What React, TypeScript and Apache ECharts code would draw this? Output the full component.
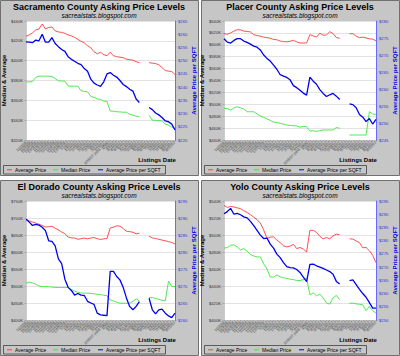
import React, { useEffect, useRef } from "react";
import * as echarts from "echarts";

const dates = ["10/2/06","10/9/06","10/16/06","10/23/06","10/30/06","11/6/06","11/13/06","11/20/06","11/27/06","12/4/06","12/11/06","12/18/06","12/25/06","1/1/07","1/8/07","1/15/07","1/22/07","1/29/07","2/5/07","2/12/07","2/19/07","2/26/07","3/5/07","3/12/07","3/19/07","3/26/07 (new data)","4/2/07","4/9/07","4/16/07","4/23/07","4/30/07","5/7/07","5/14/07","5/21/07","5/28/07","6/4/07","6/11/07","6/18/07","6/25/07","7/2/07","7/9/07","7/16/07","7/23/07","7/30/07","8/6/07","8/13/07","8/20/07"];

const sacAvg = [424.6,426,428,431,432,437,432,433.5,434,430,429,428.5,427.5,426,425,423.5,421.5,419.5,418,415,413,409,407,408.5,406,405,408.5,405,404,403.5,403,401.5,401,400.5,399,398,null,null,398,397.5,397,396,393,390,389.5,389,386];
const sacMed = [378.7,378.7,379,383,384.4,384.4,384.4,384.4,384,382,379.7,379.5,379.3,374.5,374.3,374.3,374.3,369.6,369,368.6,364,363,361.5,361,359.2,359,349.2,349,348.5,348.3,348,348,346,345,344,343.5,null,null,344.8,340,339.8,339.5,339.4,336,335,333,331.7];
const sacSqft = [257.1,257,256.8,257.8,257.5,260,257,257,258.7,256.5,255.3,254.2,253.5,251.5,250.5,249.8,249,248.5,247,246,243,241.5,240.8,240.3,242,245,245.5,244.5,243.8,242.5,241,240.2,239.2,238.5,235.5,234.2,null,null,232.3,231.5,230.2,229.5,228.5,227.2,226.9,226,223.8];

const plcAvg = [618.8,617.7,620,623,625.5,625,623,622.5,621.6,617,615.5,614.5,613,612,611,609,608.5,606.2,605.5,605,606,607.5,605,603,603,603,617,615,613,619.5,616,616.5,622,619,612,611,null,null,618.8,618.5,614.5,612,613,611.5,610,609.5,606.5];
const plcMed = [493,493,490,494,496,494,492,487.5,487.5,487.5,484,480.3,478,475.5,473,470,469.5,468.2,466.5,465.2,464.5,464,463.8,461.5,463,462.4,455,455.5,454.5,455.5,456.8,456.8,456.8,456.8,461,459.6,null,null,448.4,448.4,448.4,448.4,448.4,448.4,487.5,483.8,483];
const plcSqft = [274.8,273.8,273.5,274.3,274.8,274.8,274.1,273.7,273.2,272.6,272.3,271.5,270,269,268.2,267,265.8,264.2,263.8,263.4,262.7,261,260.4,259.6,258.8,258.2,263.5,262.3,261.4,259.8,258.7,257.8,258.3,258.7,257.9,256.9,null,null,255.6,255.4,254.5,252.5,251.7,250.4,251.3,249.7,251.1];

const eldAvg = [695.8,691.5,688,685,681.5,678,673.5,674.5,675.5,670,665,659,654,644,641.5,641,637.5,639,641,639,641,642.5,639,637,638.6,639.6,670.5,673,677,676,669,661,660,658,653.5,655.5,null,null,646.5,641.5,639.5,637.5,635,633,630.5,628,623.8];
const eldMed = [508.5,511.4,509,505.5,500,498.6,498.6,498,497,495.7,495.7,495.7,495.7,495.7,490,484.5,481.5,479.5,478.9,478.9,478.5,477,475.5,474.5,473,471.5,459,456,452.5,449.3,449.3,449.3,449.3,455,462,456.2,null,null,466,466,463.5,461,458,456,514,498.6,498.6];
const eldSqft = [289.6,288.8,287.8,288.1,287.9,287.3,286.3,283.3,283.1,281.8,278,276.6,272,269.6,268.7,267.3,267.8,267.3,267.2,265.5,265,264.6,262,261.5,261.4,261.3,274.3,274.3,272.8,271.8,269.6,266.5,264,263,264,265.4,null,null,266.4,263,261.8,263,263.2,262,261.2,260.7,262];

const yolAvg = [534.8,532.5,533.5,533,531.9,531,528.5,526.5,524,521,518,514,506,496,497.5,497.8,494,491,487.3,486,487,489,484,485.3,483.5,480,505.5,505.5,503,498.5,495.5,497,495.5,499,501,500.3,null,null,495.5,495.2,493,491,485,485.3,481.5,476,467.4];
const yolMed = [484.5,485.3,488,488.4,486,482.5,484,481,477,475.4,474.2,474.2,466,460,450.5,450.4,453,450.8,449.6,449,448,447.6,446.4,446.4,447.5,449,429.5,432,428.5,430.5,426,420,418.7,426,429,423.8,null,null,419.8,419.8,419,418.5,417.8,411,416,411,408];
const yolSqft = [290.2,291,292.2,290,290.3,289.8,289,288.6,287.3,285.7,283.9,282.1,280.8,281,278.7,277.2,274.9,273.6,271.7,270.2,269.8,269.7,269.1,268,266.2,264.5,271,271.1,270.5,270,269.5,268.9,268.3,267.3,264.6,263.6,null,null,264.9,265.2,263.4,261.6,260,258.6,256.6,254.5,254.5];

const titles = ["Sacramento County Asking Price Levels","Placer County Asking Price Levels","El Dorado County Asking Price Levels","Yolo County Asking Price Levels"];
const leftRanges = [[320,440,20],[440,640,20],[400,750,50],[400,540,20]];
const rightRanges = [[220,265,5],[245,280,5],[260,295,5],[250,295,5]];
const seriesNames = ["Average Price","Median Price","Average Price per SQFT"];

const panelData = [
  [sacAvg, sacMed, sacSqft],
  [plcAvg, plcMed, plcSqft],
  [eldAvg, eldMed, eldSqft],
  [yolAvg, yolMed, yolSqft],
];

const RED = "#ff3b3b";
const GREEN = "#3ce63c";
const BLUE = "#0000f0";
const FONT = "Liberation Sans";

export default function App() {
  const ref = useRef<HTMLDivElement>(null);
  useEffect(() => {
    if (!ref.current) return;
    const chart = echarts.init(ref.current, null, { renderer: "svg" });
    const offsets = [[0, 0], [201, 0], [0, 180], [201, 180]];
    const grids: any[] = [];
    const xAxes: any[] = [];
    const yAxes: any[] = [];
    const series: any[] = [];
    const graphics: any[] = [];

    offsets.forEach(([ox, oy], p) => {
      graphics.push({
        type: "rect", z: -10, silent: true,
        shape: { x: ox + 0.5, y: oy + 0.5, width: 198, height: 175 },
        style: { fill: "#c6c6c6", stroke: "#707070", lineWidth: 1 },
      });
      graphics.push({
        type: "text", x: ox + 99, y: oy + 6.5,
        style: { text: titles[p], textAlign: "center", textVerticalAlign: "middle", font: `bold 9px "${FONT}"`, fill: "#000" },
      });
      graphics.push({
        type: "text", x: ox + 99, y: oy + 15.5,
        style: { text: "sacrealstats.blogspot.com", textAlign: "center", textVerticalAlign: "middle", font: `italic 6.5px "${FONT}"`, fill: "#000" },
      });
      graphics.push({
        type: "text", x: ox + 157, y: oy + 159.5,
        style: { text: "Listings Date", textAlign: "center", textVerticalAlign: "middle", font: `bold 6px "${FONT}"`, fill: "#000" },
      });
      graphics.push({
        type: "rect",
        shape: { x: ox + 3.5, y: oy + 165.5, width: 162, height: 8.5 },
        style: { fill: "#c6c6c6", stroke: "#404040", lineWidth: 0.8 },
      });
      const legX = [7, 53, 98];
      const legColors = [RED, GREEN, BLUE];
      legX.forEach((lx, k) => {
        graphics.push({
          type: "line",
          shape: { x1: ox + lx, y1: oy + 169.8, x2: ox + lx + 5, y2: oy + 169.8 },
          style: { stroke: legColors[k], lineWidth: 1 },
        });
        graphics.push({
          type: "text", x: ox + lx + 8, y: oy + 169.8,
          style: { text: seriesNames[k], textVerticalAlign: "middle", font: `5px "${FONT}"`, fill: "#000" },
        });
      });

      grids.push({
        left: ox + 23, top: oy + 21, width: 152, height: 119,
        show: true, backgroundColor: "#ffffff", borderWidth: 0,
      });
      xAxes.push({
        type: "category", gridIndex: p, data: dates, boundaryGap: false,
        axisLine: { show: true, lineStyle: { color: "#999", width: 0.5 } },
        axisTick: { show: true, interval: 0, length: 1.5, lineStyle: { color: "#888", width: 0.5 } },
        axisLabel: { interval: 0, rotate: 45, fontSize: 3.8, fontFamily: FONT, color: "#444", margin: 2 },
        splitLine: { show: false },
      });
      const [lmin, lmax, lint] = leftRanges[p];
      const [rmin, rmax, rint] = rightRanges[p];
      yAxes.push({
        type: "value", gridIndex: p, position: "left", min: lmin, max: lmax, interval: lint,
        name: "Median & Average", nameLocation: "middle", nameRotate: 90, nameGap: 17,
        nameTextStyle: { fontSize: 6, fontWeight: "bold", fontFamily: FONT, color: "#000" },
        axisLine: { show: true, lineStyle: { color: "#999", width: 0.5 } },
        axisTick: { show: true, length: 1.5, lineStyle: { color: "#888", width: 0.5 } },
        axisLabel: { fontSize: 4.2, fontFamily: FONT, color: "#333", margin: 3, formatter: (v: number) => "$" + v + "K" },
        splitLine: { show: true, lineStyle: { color: "#e2e2e2", width: 1 } },
      });
      yAxes.push({
        type: "value", gridIndex: p, position: "right", min: rmin, max: rmax, interval: rint,
        name: "Average Price per SQFT", nameLocation: "middle", nameRotate: 90, nameGap: 16,
        nameTextStyle: { fontSize: 6, fontWeight: "bold", fontFamily: FONT, color: BLUE },
        axisLine: { show: true, lineStyle: { color: "#6a6aff", width: 1 } },
        axisTick: { show: true, length: 1.5, lineStyle: { color: "#6a6aff", width: 0.5 } },
        axisLabel: { fontSize: 4.2, fontFamily: FONT, color: "#3333dd", margin: 3, formatter: (v: number) => "$" + v },
        splitLine: { show: false },
      });
      const [avg, med, sqft] = panelData[p];
      series.push({
        type: "line", name: seriesNames[0], xAxisIndex: p, yAxisIndex: p * 2, data: avg,
        showSymbol: false, symbol: "none", connectNulls: false,
        lineStyle: { color: RED, width: 0.9 }, itemStyle: { color: RED },
      });
      series.push({
        type: "line", name: seriesNames[1], xAxisIndex: p, yAxisIndex: p * 2, data: med,
        showSymbol: false, symbol: "none", connectNulls: false,
        lineStyle: { color: GREEN, width: 0.9 }, itemStyle: { color: GREEN },
      });
      series.push({
        type: "line", name: seriesNames[2], xAxisIndex: p, yAxisIndex: p * 2 + 1, data: sqft,
        showSymbol: false, symbol: "none", connectNulls: false,
        lineStyle: { color: BLUE, width: 1.3 }, itemStyle: { color: BLUE },
      });
    });

    chart.setOption({
      animation: false,
      backgroundColor: "#ffffff",
      textStyle: { fontFamily: FONT },
      grid: grids,
      xAxis: xAxes,
      yAxis: yAxes,
      series,
      graphic: graphics,
    });
    return () => chart.dispose();
  }, []);
  return <div ref={ref} style={{ width: 400, height: 356, position: "absolute", left: 0, top: 0 }} />;
}
